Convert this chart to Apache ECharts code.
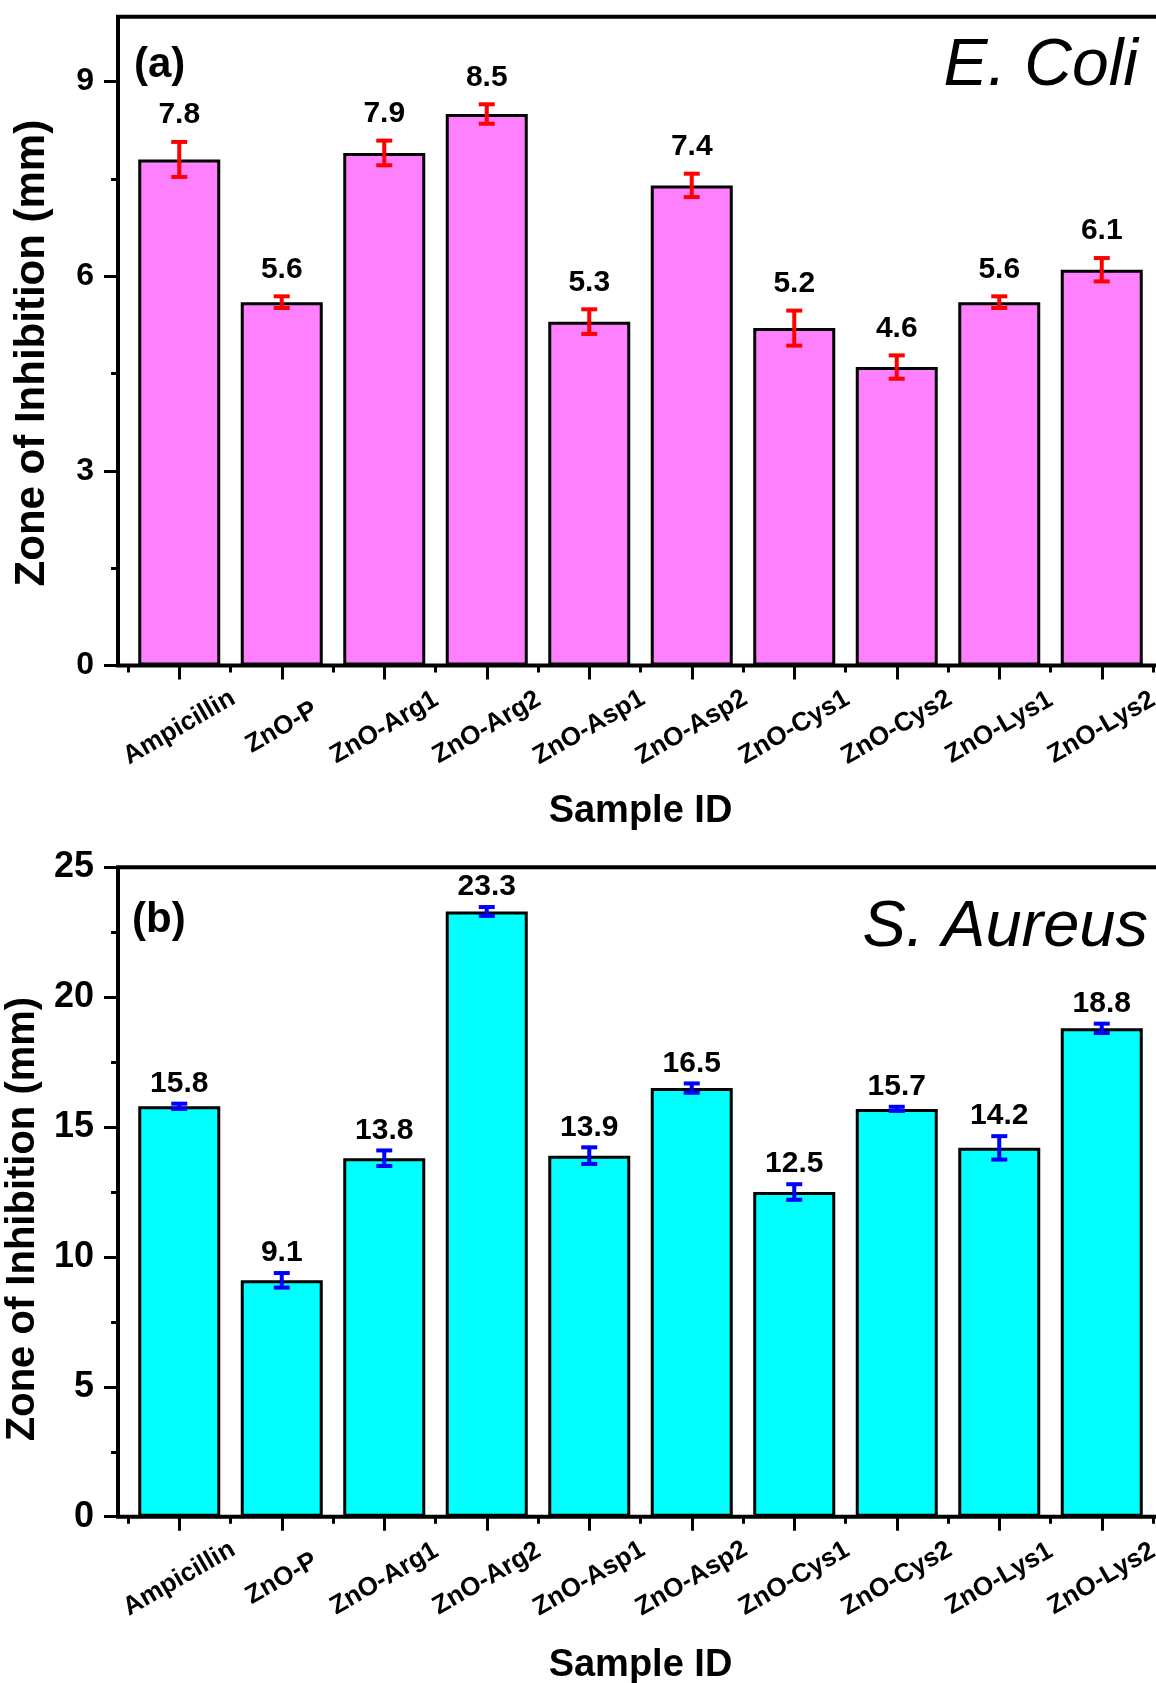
<!DOCTYPE html>
<html>
<head>
<meta charset="utf-8">
<script src="https://cdn.jsdelivr.net/npm/echarts@6/dist/echarts.min.js"></script>
<style>
html,body{margin:0;padding:0;background:#fff;}
#chart{width:1156px;height:1683px;}
</style>
</head>
<body>
<div id="chart"></div>
<script>
const categories = ['Ampicillin','ZnO-P','ZnO-Arg1','ZnO-Arg2','ZnO-Asp1','ZnO-Asp2','ZnO-Cys1','ZnO-Cys2','ZnO-Lys1','ZnO-Lys2'];
const ecoliValues = [7.8, 5.6, 7.9, 8.5, 5.3, 7.4, 5.2, 4.6, 5.6, 6.1];
const ecoliErrors = [0.27, 0.09, 0.19, 0.15, 0.19, 0.18, 0.27, 0.18, 0.09, 0.18];
const saureusValues = [15.8, 9.1, 13.8, 23.3, 13.9, 16.5, 12.5, 15.7, 14.2, 18.8];
const saureusErrors = [0.1, 0.28, 0.3, 0.17, 0.32, 0.18, 0.3, 0.08, 0.45, 0.18];
const ecoliMajorTicks = [0, 3, 6, 9];
const ecoliMinorTicks = [1.5, 4.5, 7.5];
const saureusMajorTicks = [0, 5, 10, 15, 20, 25];
const saureusMinorTicks = [2.5, 7.5, 12.5, 17.5, 22.5];

const FONT = "'Liberation Sans', Arial, sans-serif";
const chart = echarts.init(document.getElementById('chart'), null, {renderer: 'canvas'});

const panels = [
  {top: 16.7, bottom: 1683 - 665.5, max: 10, major: ecoliMajorTicks, minor: ecoliMinorTicks,
   tickFont: 32, titleFont: 42, titlePad: 24, nameGapX: 146},
  {top: 867.3, bottom: 1683 - 1516.7, max: 25, major: saureusMajorTicks, minor: saureusMinorTicks,
   tickFont: 36, titleFont: 40, titlePad: 54, nameGapX: 149}
];

const grids = [], xAxes = [], yAxes = [];
panels.forEach((p, i) => {
  grids.push({left: 128, right: 3, top: p.top, bottom: p.bottom, containLabel: false, outerBoundsMode: 'none'});
});
panels.forEach((p, i) => {
  grids.push({left: 118, right: -30, top: p.top, bottom: p.bottom, show: true, borderColor: '#000', borderWidth: 4,
    backgroundColor: 'transparent', z: 5, outerBoundsMode: 'none'});
});
panels.forEach((p, i) => {
  xAxes.push({
    type: 'category', gridIndex: i, position: 'bottom', data: categories,
    axisLine: {show: false},
    axisTick: {show: true, alignWithLabel: true, length: 14, interval: 0, lineStyle: {color: '#000', width: 3}},
    axisLabel: {interval: 0, rotate: 30, align: 'center', verticalAlign: 'middle', margin: 62,
      fontFamily: FONT, fontWeight: 'bold', fontSize: 26, color: '#000', hideOverlap: false},
    name: 'Sample ID', nameLocation: 'middle', nameGap: p.nameGapX,
    nameTextStyle: {fontFamily: FONT, fontWeight: 'bold', fontSize: 38, color: '#000', verticalAlign: 'middle'}
  });
  xAxes.push({
    type: 'category', gridIndex: i, position: 'bottom', data: categories,
    axisLine: {show: false},
    axisTick: {show: true, alignWithLabel: false, length: 7, interval: 0, lineStyle: {color: '#000', width: 3}},
    axisLabel: {show: false}
  });
  yAxes.push({
    type: 'value', gridIndex: i, position: 'left', offset: 10, min: 0, max: p.max,
    splitLine: {show: false}, axisLine: {show: false},
    axisTick: {show: true, length: 14, customValues: p.major, lineStyle: {color: '#000', width: 3}},
    axisLabel: {customValues: p.major, margin: 24, fontFamily: FONT, fontWeight: 'bold', fontSize: p.tickFont, color: '#000'},
    name: 'Zone of Inhibition (mm)', nameLocation: 'middle', nameGap: 86,
    nameTextStyle: {fontFamily: FONT, fontWeight: 'bold', fontSize: p.titleFont, color: '#000', verticalAlign: 'middle', padding: [0, p.titlePad, 0, 0]}
  });
  yAxes.push({
    type: 'value', gridIndex: i, position: 'left', offset: 10, min: 0, max: p.max,
    splitLine: {show: false}, axisLine: {show: false},
    axisTick: {show: true, length: 7, customValues: p.minor, lineStyle: {color: '#000', width: 3}},
    axisLabel: {show: false}
  });
});

function errorSeries(values, errors, xIdx, yIdx, color, labelGap) {
  return {
    type: 'custom', xAxisIndex: xIdx, yAxisIndex: yIdx, z: 3,
    data: categories.map((c, k) => [k, values[k], errors[k]]),
    renderItem: function (params, api) {
      const x = api.value(0), v = api.value(1), e = api.value(2);
      const top = api.coord([x, v + e]);
      const bot = api.coord([x, v - e]);
      const hw = 8;
      const st = {stroke: color, lineWidth: 4};
      return {type: 'group', children: [
        {type: 'line', shape: {x1: top[0], y1: top[1], x2: bot[0], y2: bot[1]}, style: st},
        {type: 'line', shape: {x1: top[0] - hw, y1: top[1], x2: top[0] + hw, y2: top[1]}, style: st},
        {type: 'line', shape: {x1: bot[0] - hw, y1: bot[1], x2: bot[0] + hw, y2: bot[1]}, style: st},
        {type: 'text', x: top[0], y: top[1] - labelGap, style: {text: v.toFixed(1), align: 'center', verticalAlign: 'middle',
          font: "bold 30px 'Liberation Sans', Arial, sans-serif", fill: '#000'}}
      ]};
    }
  };
}

const option = {
  backgroundColor: '#fff',
  animation: false,
  title: [
    {text: '(a)', left: 134, top: 44, padding: 0, textStyle: {fontFamily: FONT, fontWeight: 'bold', fontSize: 42, color: '#000'}},
    {text: 'E. Coli', right: 18, top: 34, padding: 0, textStyle: {fontFamily: FONT, fontStyle: 'italic', fontWeight: 'normal', fontSize: 66, color: '#000'}},
    {text: '(b)', left: 132, top: 899, padding: 0, textStyle: {fontFamily: FONT, fontWeight: 'bold', fontSize: 42, color: '#000'}},
    {text: 'S. Aureus', right: 8, top: 895, padding: 0, textStyle: {fontFamily: FONT, fontStyle: 'italic', fontWeight: 'normal', fontSize: 65, color: '#000'}}
  ],
  grid: grids,
  xAxis: xAxes,
  yAxis: yAxes,
  series: [
    {type: 'bar', xAxisIndex: 0, yAxisIndex: 0, data: ecoliValues, barWidth: 82,
      itemStyle: {color: '#ff80ff', borderColor: '#000', borderWidth: 3}},
    errorSeries(ecoliValues, ecoliErrors, 0, 0, '#ff0000', 27),
    {type: 'bar', xAxisIndex: 2, yAxisIndex: 2, data: saureusValues, barWidth: 82,
      itemStyle: {color: '#00ffff', borderColor: '#000', borderWidth: 3}},
    errorSeries(saureusValues, saureusErrors, 2, 2, '#0000ff', 20)
  ]
};
chart.setOption(option);
</script>
</body>
</html>
